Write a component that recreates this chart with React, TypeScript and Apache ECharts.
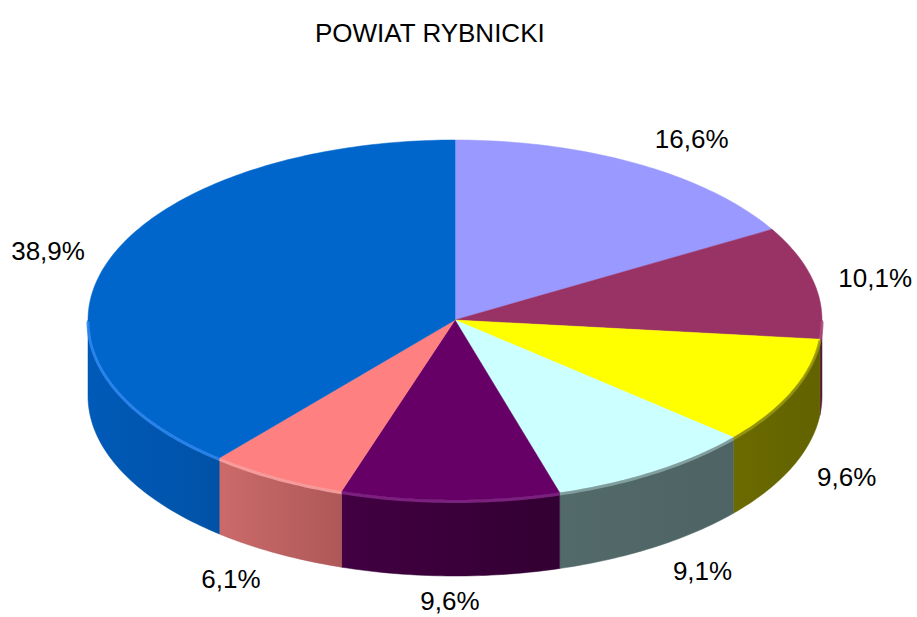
import React, { useEffect, useRef } from "react";
import * as echarts from "echarts";

// ---- data ----
const TITLE = "POWIAT RYBNICKI";
const CATEGORIES = ["Kategoria 1", "Kategoria 2", "Kategoria 3", "Kategoria 4", "Kategoria 5", "Kategoria 6", "Kategoria 7"];
const SHARES = [16.6, 10.1, 9.6, 9.1, 9.6, 6.1, 38.9];

// ---- styles ----
const TOP_COLORS = ["#9999FF", "#993366", "#FFFF00", "#CCFFFF", "#660066", "#FF8080", "#0066CC"];
const WALL_LEFT = ["#5C5C99", "#6A2446", "#6B6B00", "#536A6A", "#420042", "#CC6A6A", "#005AB8"];
const WALL_RIGHT = ["#4A4A80", "#4A1830", "#626200", "#4E6464", "#320032", "#AE5858", "#0052A6"];
const RIM_COLORS = ["#B0B0FF", "#B04C80", "#9A9A10", "#8AA8A8", "#86268A", "#FFA4A4", "#2F8AF2"];
const FONT = '"Liberation Sans", Arial, sans-serif';

const TOTAL = SHARES.reduce((a, b) => a + b, 0);
const STARTS = SHARES.map((_, i) => SHARES.slice(0, i).reduce((a, b) => a + b, 0));

// geometry of the projected pie
const CX = 455;
const CY = 320;
const RX = 367;
const RY = 180;
const DEPTH = 76;

const pt = (t: number, dy = 0): number[] => [CX + RX * Math.sin(t), CY - RY * Math.cos(t) + dy];

function arc(a0: number, a1: number, dy = 0): number[][] {
  const n = Math.max(2, Math.ceil(((a1 - a0) * 180) / Math.PI));
  const out: number[][] = [];
  for (let k = 0; k <= n; k++) out.push(pt(a0 + ((a1 - a0) * k) / n, dy));
  return out;
}

function angles(i: number, v: number) {
  const a0 = (STARTS[i] / TOTAL) * Math.PI * 2;
  const a1 = a0 + (v / TOTAL) * Math.PI * 2;
  return [a0, a1];
}

export default function App() {
  const ref = useRef<HTMLDivElement>(null);

  useEffect(() => {
    document.body.style.margin = "0";
    if (!ref.current) return;
    const chart = echarts.init(ref.current, undefined, { renderer: "svg" });

    const data = SHARES.map((v, i) => ({ name: CATEGORIES[i], value: v }));

    const wallSeries = {
      type: "custom",
      name: "walls",
      coordinateSystem: "none",
      z: 2,
      silent: true,
      data,
      renderItem: (params: any, api: any) => {
        const i = params.dataIndex;
        const v = api.value(0);
        const [a0, a1] = angles(i, v);
        const s = Math.max(a0, Math.PI / 2);
        const e = Math.min(a1, (Math.PI * 3) / 2);
        if (e <= s) return { type: "group", children: [] };
        const top = arc(s, e, 0);
        const bottom = arc(s, e, DEPTH).reverse();
        return {
          type: "polygon",
          shape: { points: top.concat(bottom) },
          style: {
            fill: new echarts.graphic.LinearGradient(0, 0, 1, 0, [
              { offset: 0, color: WALL_LEFT[i] },
              { offset: 1, color: WALL_RIGHT[i] },
            ]),
            stroke: WALL_RIGHT[i],
            lineWidth: 0.5,
          },
        };
      },
    };

    const topSeries = {
      type: "custom",
      name: "tops",
      coordinateSystem: "none",
      z: 3,
      data,
      renderItem: (params: any, api: any) => {
        const i = params.dataIndex;
        const v = api.value(0);
        const [a0, a1] = angles(i, v);
        const children: any[] = [
          {
            type: "polygon",
            shape: { points: [[CX, CY]].concat(arc(a0, a1)) },
            style: { fill: TOP_COLORS[i], stroke: TOP_COLORS[i], lineWidth: 0.5 },
          },
        ];
        const s = Math.max(a0, Math.PI / 2);
        const e = Math.min(a1, (Math.PI * 3) / 2);
        if (e > s) {
          children.push({
            type: "polyline",
            shape: { points: arc(s, e, 1.5) },
            style: { stroke: RIM_COLORS[i], lineWidth: 3, fill: "none", opacity: 0.85 },
          });
        }
        // label
        const m = (a0 + a1) / 2;
        const sn = Math.sin(m);
        const cs = Math.cos(m);
        const gx = 22 + 14 * Math.abs(cs);
        const gy = 18 + 13 * Math.abs(cs);
        const front = cs < 0 ? DEPTH * Math.min(1, -cs * 4) : 0;
        const x = CX + (RX + gx) * sn;
        const y = Math.min(CY - (RY + gy) * cs + front, 601);
        const align = sn > 0.15 ? "left" : sn < -0.15 ? "right" : "center";
        children.push({
          type: "text",
          x,
          y,
          style: {
            text: v.toFixed(1).replace(".", ",") + "%",
            fill: "#000000",
            fontSize: 26,
            fontFamily: FONT,
            align,
            verticalAlign: "middle",
          },
        });
        return { type: "group", children };
      },
    };

    chart.setOption({
      animation: false,
      backgroundColor: "#FFFFFF",
      title: {
        text: TITLE,
        left: 310,
        top: 15,
        textStyle: { fontSize: 26, fontWeight: "normal", color: "#000000", fontFamily: FONT },
      },
      series: [wallSeries, topSeries],
    });

    return () => chart.dispose();
  }, []);

  return <div ref={ref} style={{ width: 917, height: 617 }} />;
}
